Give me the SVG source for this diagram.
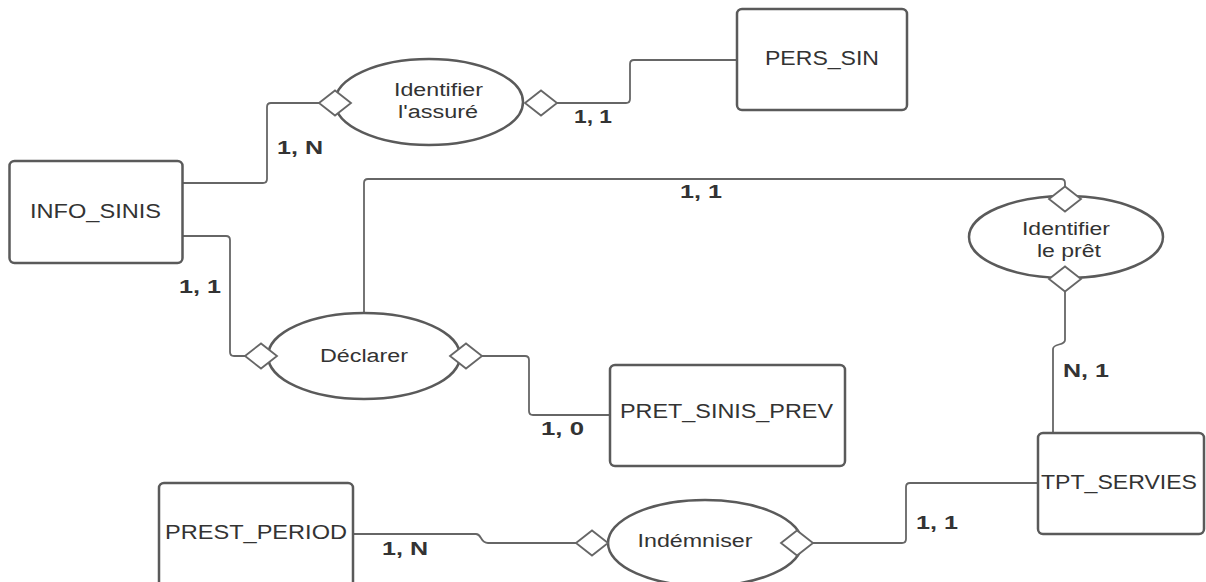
<svg xmlns="http://www.w3.org/2000/svg" width="1206" height="582" viewBox="0 0 1206 582">
  <style>
    .entity { fill: #ffffff; stroke: #5a5a5a; stroke-width: 2.5; }
    .rel { fill: #ffffff; stroke: #5a5a5a; stroke-width: 2.5; }
    .dia { fill: #ffffff; stroke: #666666; stroke-width: 1.8; stroke-linejoin: miter; }
    .link { fill: none; stroke: #666666; stroke-width: 1.8; }
    .etext { font-family: "Liberation Sans", Arial, sans-serif; font-size: 19.5px; fill: #333333; text-anchor: middle; }
    .rtext { font-family: "Liberation Sans", Arial, sans-serif; font-size: 18px; fill: #333333; text-anchor: middle; }
    .card { font-family: "Liberation Sans", Arial, sans-serif; font-size: 19px; font-weight: bold; fill: #333333; }
  </style>
  <defs>
    <!-- cardinality diamond, centred on the origin -->
    <polygon id="diamond" points="-16,0 0,-12.5 16,0 0,12.5"/>
  </defs>
  <rect width="1206" height="582" fill="#ffffff"/>

  <!-- connectors -->
  <g id="connectors">
    <path class="link" d="M183,183 H263 Q267,183 267,179 V107 Q267,103 271,103 H319"/>
    <path class="link" d="M557,103 H626 Q630,103 630,99 V64 Q630,60 634,60 H737"/>
    <path class="link" d="M183,236 H226 Q230,236 230,240 V352 Q230,356 234,356 H245"/>
    <path class="link" d="M482,356 H525 Q529,356 529,360 V411 Q529,415 533,415 H610"/>
    <path class="link" d="M364,313 V183 Q364,179 368,179 H1061 Q1065,179 1065,183 V187"/>
    <path class="link" d="M1065,291 V340 C1065,346 1053,343 1053,349 V433"/>
    <path class="link" d="M1038,483 H910 Q906,483 906,487 V539 Q906,543 902,543 H813"/>
    <path class="link" d="M353,534 H476 C482,534 480,543 488,543 H576"/>
  </g>

  <!-- entities -->
  <g id="info_sinis">
    <rect class="entity" x="9.5" y="161" width="173" height="102" rx="5"/>
    <text class="etext" x="95.5" y="218" textLength="131" lengthAdjust="spacingAndGlyphs">INFO_SINIS</text>
  </g>
  <g id="pers_sin">
    <rect class="entity" x="737" y="9" width="170" height="101" rx="5"/>
    <text class="etext" x="822" y="65" textLength="114" lengthAdjust="spacingAndGlyphs">PERS_SIN</text>
  </g>
  <g id="pret_sinis_prev">
    <rect class="entity" x="610" y="365" width="235" height="101" rx="5"/>
    <text class="etext" x="726.5" y="418" textLength="213" lengthAdjust="spacingAndGlyphs">PRET_SINIS_PREV</text>
  </g>
  <g id="tpt_servies">
    <rect class="entity" x="1038" y="433" width="166" height="101" rx="5"/>
    <text class="etext" x="1119" y="489" textLength="156" lengthAdjust="spacingAndGlyphs">TPT_SERVIES</text>
  </g>
  <g id="prest_period">
    <rect class="entity" x="159" y="483" width="194" height="112" rx="5"/>
    <text class="etext" x="256" y="539" textLength="182" lengthAdjust="spacingAndGlyphs">PREST_PERIOD</text>
  </g>

  <!-- relationships -->
  <g id="identifier_assure">
    <ellipse class="rel" cx="429" cy="102" rx="94" ry="43"/>
    <use href="#diamond" class="dia" x="335" y="103"/>
    <use href="#diamond" class="dia" x="541" y="103"/>
    <text class="rtext" x="438.5" y="96" textLength="89" lengthAdjust="spacingAndGlyphs">Identifier</text>
    <text class="rtext" x="438" y="118" textLength="80" lengthAdjust="spacingAndGlyphs">l'assuré</text>
  </g>
  <g id="declarer">
    <ellipse class="rel" cx="364" cy="356" rx="96" ry="43"/>
    <use href="#diamond" class="dia" x="261" y="356"/>
    <use href="#diamond" class="dia" x="466" y="356"/>
    <text class="rtext" x="364" y="362" textLength="88" lengthAdjust="spacingAndGlyphs">Déclarer</text>
  </g>
  <g id="identifier_pret">
    <ellipse class="rel" cx="1066" cy="237" rx="97" ry="41"/>
    <use href="#diamond" class="dia" x="1065" y="199"/>
    <use href="#diamond" class="dia" x="1065" y="279"/>
    <text class="rtext" x="1066" y="235" textLength="88" lengthAdjust="spacingAndGlyphs">Identifier</text>
    <text class="rtext" x="1069" y="257" textLength="64" lengthAdjust="spacingAndGlyphs">le prêt</text>
  </g>
  <g id="indemniser">
    <ellipse class="rel" cx="705" cy="543" rx="97" ry="43"/>
    <use href="#diamond" class="dia" x="592" y="543"/>
    <use href="#diamond" class="dia" x="797" y="543"/>
    <text class="rtext" x="695" y="547" textLength="115" lengthAdjust="spacingAndGlyphs">Indémniser</text>
  </g>

  <!-- cardinalities -->
  <g id="cardinalities">
    <text class="card" x="277" y="154" textLength="46" lengthAdjust="spacingAndGlyphs">1, N</text>
    <text class="card" x="574" y="123" textLength="38" lengthAdjust="spacingAndGlyphs">1, 1</text>
    <text class="card" x="179" y="293" textLength="42" lengthAdjust="spacingAndGlyphs">1, 1</text>
    <text class="card" x="680" y="198" textLength="42" lengthAdjust="spacingAndGlyphs">1, 1</text>
    <text class="card" x="541" y="435" textLength="43" lengthAdjust="spacingAndGlyphs">1, 0</text>
    <text class="card" x="1063" y="377" textLength="46" lengthAdjust="spacingAndGlyphs">N, 1</text>
    <text class="card" x="382" y="555" textLength="46" lengthAdjust="spacingAndGlyphs">1, N</text>
    <text class="card" x="916" y="529" textLength="42" lengthAdjust="spacingAndGlyphs">1, 1</text>
  </g>
</svg>
